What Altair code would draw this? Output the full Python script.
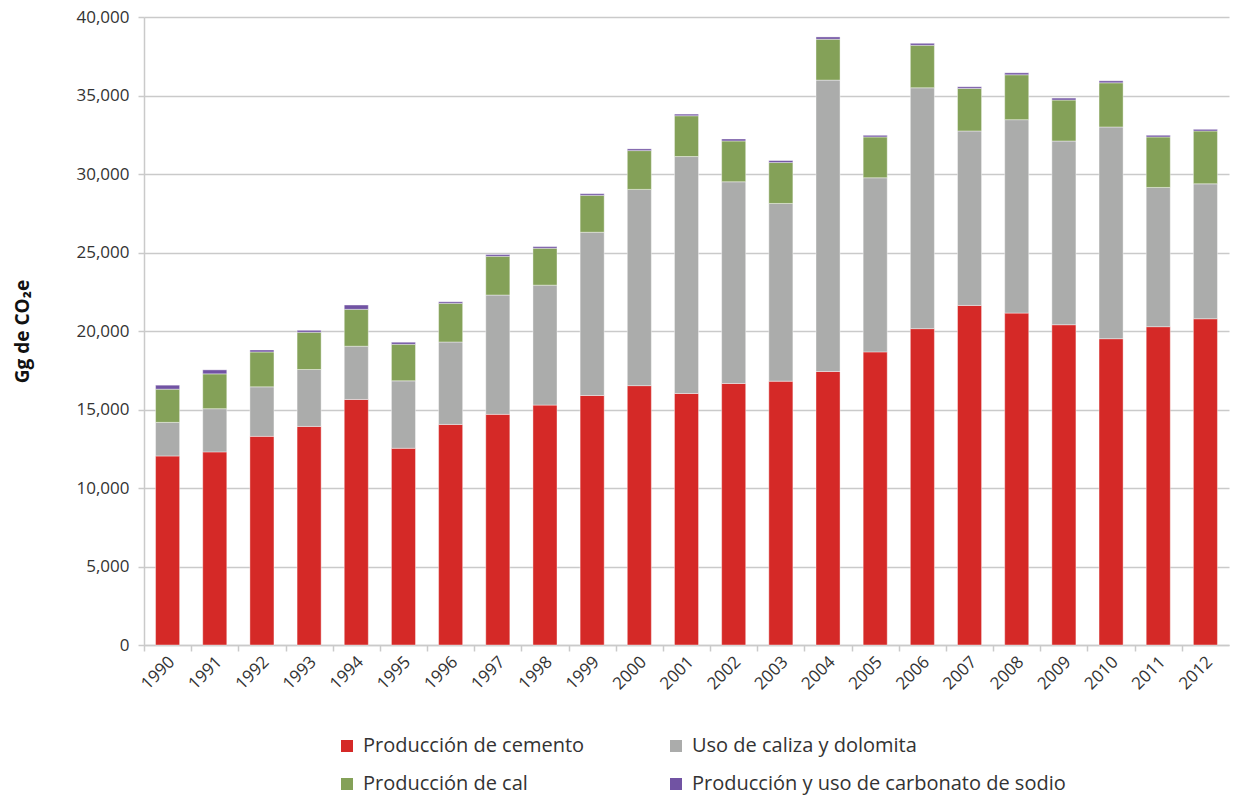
import altair as alt
import pandas as pd

years = [str(y) for y in range(1990, 2013)]

cemento = [12040, 12300, 13290, 13925, 15640, 12530, 14050, 14690, 15280, 15890, 16520, 16020,
           16655, 16805, 17420, 18670, 20150, 21630, 21140, 20400, 19510, 20275, 20780]
caliza = [2140, 2750, 3155, 3620, 3390, 4295, 5250, 7600, 7640, 10400, 12500, 15090,
          12850, 11320, 18560, 11090, 15340, 11110, 12320, 11700, 13485, 8870, 8595]
cal = [2115, 2220, 2220, 2375, 2350, 2330, 2460, 2470, 2350, 2350, 2470, 2600,
       2600, 2605, 2605, 2600, 2710, 2710, 2860, 2610, 2815, 3215, 3365]
sodio = [255, 255, 125, 125, 275, 130, 100, 110, 105, 105, 110, 105,
         125, 125, 145, 105, 125, 105, 125, 125, 125, 105, 105]

series = ["Producción de cemento", "Uso de caliza y dolomita",
          "Producción de cal", "Producción y uso de carbonato de sodio"]
colors = ["#D52927", "#ABACAB", "#84A158", "#7153A3"]

rows = []
for i, yr in enumerate(years):
    for k, vals in enumerate([cemento, caliza, cal, sodio]):
        rows.append({"year": yr, "serie": series[k], "valor": vals[i], "orden": k})
df = pd.DataFrame(rows)

W, H = 1085, 628
step = W / len(years)
grid_c = "#cacaca"
txt_c = "#333333"

chart = alt.Chart(df).mark_bar(stroke="#ffffff", strokeWidth=0.8, strokeOpacity=0.5).encode(
    x=alt.X("year:N", sort=years, title=None,
            scale=alt.Scale(paddingInner=0.49, paddingOuter=0.245),
            axis=alt.Axis(labelAngle=-45, labelAlign="right", labelBaseline="middle",
                          labelFontSize=17, labelColor=txt_c, labelPadding=8,
                          tickOffset=-step / 2, labelOffset=step / 2 + 4,
                          tickSize=6, tickColor=grid_c, tickWidth=1.5,
                          domainColor=grid_c, domainWidth=1.5, grid=False)),
    y=alt.Y("valor:Q", stack="zero",
            scale=alt.Scale(domain=[0, 40000]),
            axis=alt.Axis(values=list(range(0, 40001, 5000)), format=",d",
                          labelFontSize=17, labelColor=txt_c, labelPadding=9,
                          tickSize=6, tickColor=grid_c, tickWidth=1.5,
                          domainColor=grid_c, domainWidth=1.5,
                          gridColor=grid_c, gridWidth=1.5,
                          title="Gg de CO₂e", titleFontSize=19, titleFontWeight="bold",
                          titleColor="#111111", titleAngle=-90, titleX=-122, titleY=H / 2,
                          titleAlign="center", titleBaseline="middle")),
    color=alt.Color("serie:N", sort=series, title=None,
                    scale=alt.Scale(domain=series, range=colors),
                    legend=alt.Legend(orient="none", legendX=193, legendY=719,
                                      direction="horizontal",
                                      columns=2, columnPadding=81, rowPadding=18,
                                      symbolType="square", symbolSize=144,
                                      symbolStrokeWidth=0, labelFontSize=20,
                                      labelOffset=6, labelColor=txt_c, labelLimit=600)),
    order=alt.Order("orden:Q", sort="ascending"),
).properties(
    width=W, height=H,
    autosize=alt.AutoSizeParams(type="none"),
    padding={"left": 136, "top": 9, "right": 1, "bottom": 153},
).configure(
    font="Open Sans"
).configure_view(strokeWidth=0)

chart.save("out.html", embed_options={"renderer": "svg", "actions": False})
